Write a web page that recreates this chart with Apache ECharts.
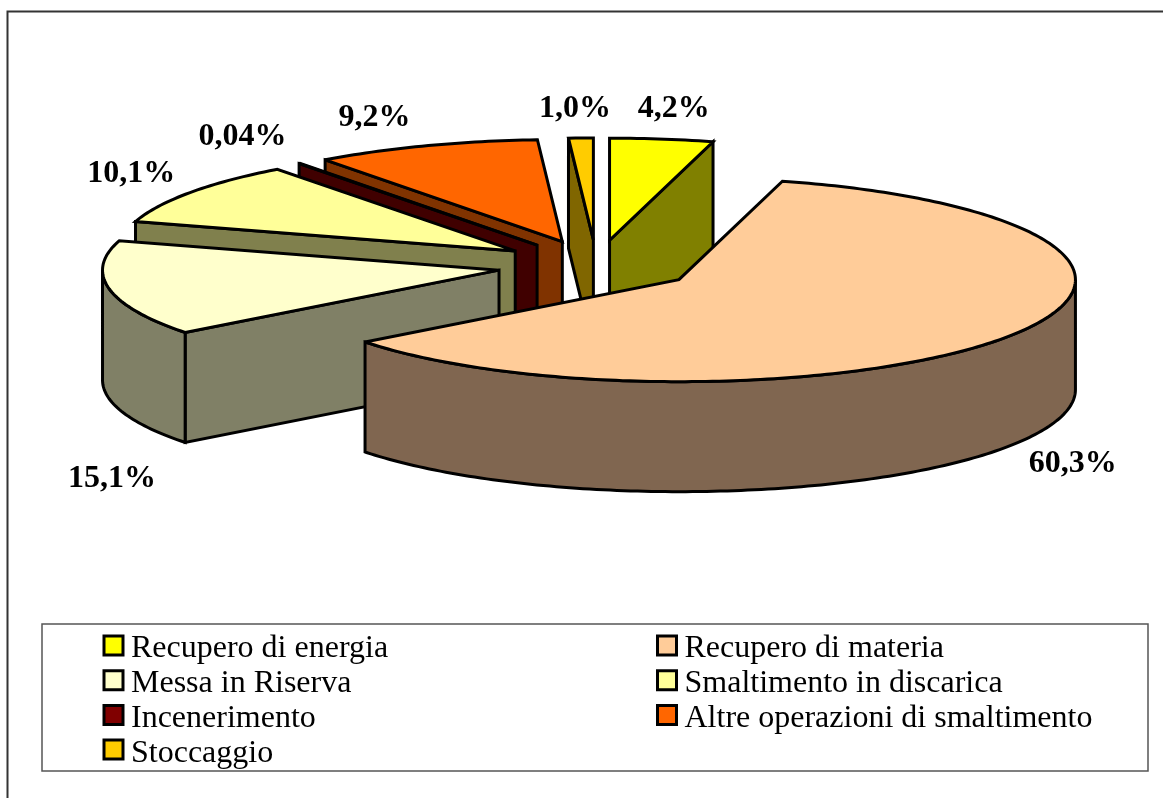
<!DOCTYPE html>
<html>
<head>
<meta charset="utf-8">
<style>html,body{margin:0;padding:0;background:#fff}#chart{width:1163px;height:798px}</style>
<script src="https://cdn.jsdelivr.net/npm/echarts@6/dist/echarts.min.js"></script>
</head>
<body>
<div id="chart"></div>
<script>
// ---- data ----
const categories = ['Recupero di energia','Recupero di materia','Messa in Riserva','Smaltimento in discarica','Incenerimento','Altre operazioni di smaltimento','Stoccaggio'];
const values = [4.2, 60.3, 15.1, 10.1, 0.04, 9.2, 1.0];
const valueLabels = ['4,2%','60,3%','15,1%','10,1%','0,04%','9,2%','1,0%'];
const colors = ['#FFFF00','#FFCC99','#FFFFCC','#FFFF99','#800000','#FF6600','#FFCC00'];
const wallColors = ['#808000','#806650','#808066','#80804D','#400000','#803300','#806600'];
const leftLegend = [categories[0], categories[2], categories[4], categories[6]];
const rightLegend = [categories[1], categories[3], categories[5]];

// ---- projection of the exploded 3D pie ----
const CX = 596.5, CY = 265.5, RX = 396.5, RY = 102, DEPTH = 110, EXPLODE = 0.25;
const drawOrder = [0, 6, 5, 4, 3, 2, 1];
const labelOffset = [[12,-30],[64,127],[3,190],[-59,-19],[-57,-27],[-51,-28],[-6,-29]];
const total = values.reduce((a, b) => a + b, 0);
const rad = d => d * Math.PI / 180;

function sliceElements(idx) {
  const start = values.slice(0, idx).reduce((a, b) => a + b, 0) / total * 360;
  const end = start + values[idx] / total * 360;
  const mid = (start + end) / 2;
  const ax = CX + RX * EXPLODE * Math.sin(rad(mid));
  const ay = CY - RY * EXPLODE * Math.cos(rad(mid));
  const rim = d => [ax + RX * Math.sin(rad(d)), ay - RY * Math.cos(rad(d))];
  const down = p => [p[0], p[1] + DEPTH];
  const stroke = { stroke: '#000', lineWidth: 3, lineJoin: 'miter', miterLimit: 3 };
  const poly = (pts, fill) => ({ type: 'polygon', shape: { points: pts }, style: Object.assign({ fill }, stroke) });
  const apex = [ax, ay];
  const kids = [];
  const wall = wallColors[idx];
  // cut faces that look toward the viewer
  const face = d => { const p = rim(d); kids.push(poly([apex, p, down(p), down(apex)], wall)); };
  if (start > 180 && start < 360) face(start);
  if (end > 0 && end < 180) face(end);
  // outer wall: only the part facing the viewer
  const a = Math.max(start, 90), b = Math.min(end, 270);
  if (b > a) {
    const arc = [];
    for (let d = a; d < b; d += 1) arc.push(rim(d));
    arc.push(rim(b));
    kids.push(poly(arc.concat(arc.slice().reverse().map(down)), wall));
  }
  // top surface
  const top = [apex];
  for (let d = start; d < end; d += 1) top.push(rim(d));
  top.push(rim(end));
  kids.push(poly(top, colors[idx]));
  // value label
  const lp = rim(mid);
  kids.push({
    type: 'text',
    style: {
      text: valueLabels[idx], x: lp[0] + labelOffset[idx][0], y: lp[1] + labelOffset[idx][1],
      align: 'center', verticalAlign: 'middle', fill: '#000',
      font: 'bold 32px "Liberation Serif", serif'
    }
  });
  return { type: 'group', children: kids };
}

const series = categories.map((name, i) => ({
  type: 'custom',
  name,
  coordinateSystem: 'none',
  z: 2 + drawOrder[i],
  silent: true,
  animation: false,
  itemStyle: { color: colors[i] },
  data: [values[i]],
  renderItem: () => sliceElements(i)
}));

const legendBase = {
  orient: 'vertical',
  selectedMode: false,
  icon: 'rect',
  itemWidth: 19,
  itemHeight: 19,
  itemGap: -4.3,
  padding: 0,
  formatter: '{t|{name}}',
  itemStyle: { borderColor: '#000', borderWidth: 3 },
  textStyle: { rich: { t: { fontFamily: '"Liberation Serif", serif', fontSize: 32, color: '#000', lineHeight: 32, padding: [7,0,0,3] } } }
};

const chart = echarts.init(document.getElementById('chart'), null, { renderer: 'canvas' });
chart.setOption({
  backgroundColor: '#fff',
  animation: false,
  legend: [
    Object.assign({}, legendBase, { left: 102.5, top: 626, data: leftLegend }),
    Object.assign({}, legendBase, { left: 656, top: 626, data: rightLegend })
  ],
  graphic: [
    { type: 'polyline', z: 0, shape: { points: [[7.5, 798], [7.5, 11.5], [1163, 11.5]] }, style: { fill: null, stroke: '#333', lineWidth: 2 } },
    { type: 'rect', z: 0, shape: { x: 42, y: 624, width: 1106, height: 147 }, style: { fill: '#fff', stroke: '#555', lineWidth: 1.5 } }
  ],
  series
});
</script>
</body>
</html>
